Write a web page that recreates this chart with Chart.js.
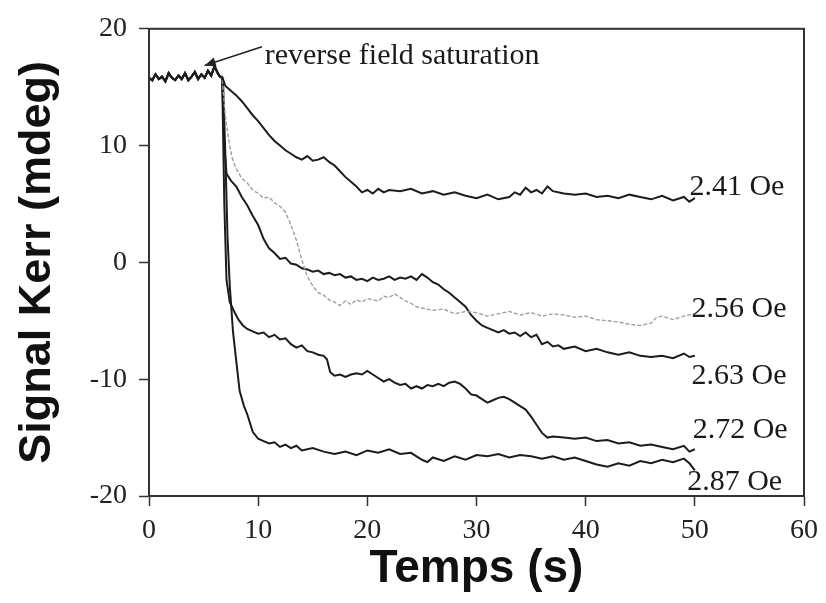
<!DOCTYPE html>
<html>
<head>
<meta charset="utf-8">
<script src="https://cdn.jsdelivr.net/npm/chart.js@4/dist/chart.umd.min.js"></script>
<style>
html,body{margin:0;padding:0;background:#fff;}
canvas{display:block;}
</style>
</head>
<body>
<canvas id="c" width="826" height="603" style="width:826px;height:603px"></canvas>
<script>
// ---- data ----
const xTicks = [0, 10, 20, 30, 40, 50, 60];
const yTicks = [-20, -10, 0, 10, 20];
const fieldLabels = ['2.41 Oe', '2.56 Oe', '2.63 Oe', '2.72 Oe', '2.87 Oe'];

// common saturated plateau before the field reversal
const tPlateau = [0, 0.3, 0.6, 0.9, 1.2, 1.5, 1.8, 2.1, 2.4, 2.7, 3.0, 3.3, 3.6, 3.9, 4.2, 4.5, 4.8, 5.1, 5.4, 5.7, 6.0, 6.3, 6.5];
const kPlateau = [15.8, 15.6, 16.1, 15.7, 15.9, 15.5, 16.2, 15.8, 15.6, 16.0, 15.7, 16.2, 15.6, 15.9, 16.3, 15.7, 16.1, 15.8, 16.4, 16.0, 16.8, 16.2, 15.9];

const t241 = [6.7, 7.0, 7.5, 8.0, 8.5, 9.0, 9.5, 10.0, 10.5, 11.0, 11.5, 12.0, 12.5, 13.0, 13.5, 14.0, 14.5, 15.0, 15.5, 16.0, 16.5, 17.0, 17.5, 18.0, 18.5, 19.0, 19.5, 20.0, 20.5, 21.0, 21.5, 22.0, 23.0, 24.0, 25.0, 26.0, 27.0, 28.0, 29.0, 30.0, 31.0, 32.0, 33.0, 33.5, 34.0, 34.5, 35.0, 35.5, 36.0, 36.5, 37.0, 38.0, 39.0, 40.0, 41.0, 42.0, 43.0, 44.0, 45.0, 46.0, 47.0, 48.0, 49.0, 49.5, 50.0];
const k241 = [15.9, 15.1, 14.7, 14.3, 13.8, 13.2, 12.6, 12.1, 11.5, 10.9, 10.4, 10.0, 9.6, 9.3, 9.0, 8.8, 9.1, 8.7, 8.8, 9.0, 8.6, 8.3, 7.8, 7.3, 6.9, 6.5, 6.0, 6.2, 5.9, 6.3, 6.0, 6.2, 6.1, 6.3, 5.9, 6.1, 5.8, 6.0, 5.7, 5.5, 5.8, 5.4, 5.6, 6.0, 5.8, 6.4, 6.0, 6.2, 5.9, 6.5, 6.1, 5.9, 5.8, 5.9, 5.6, 5.7, 5.5, 5.8, 5.6, 5.4, 5.7, 5.3, 5.6, 5.2, 5.5];

const t256 = [6.7, 7.0, 7.3, 7.6, 8.0, 8.5, 9.0, 9.5, 10.0, 10.5, 11.0, 11.5, 12.0, 12.5, 13.0, 13.5, 14.0, 14.5, 15.0, 15.5, 16.0, 16.5, 17.0, 17.5, 18.0, 18.5, 19.0, 19.5, 20.0, 21.0, 21.5, 22.0, 22.5, 23.0, 23.5, 24.0, 24.5, 25.0, 26.0, 27.0, 28.0, 29.0, 30.0, 31.0, 32.0, 33.0, 34.0, 35.0, 36.0, 37.0, 38.0, 39.0, 40.0, 41.0, 42.0, 43.0, 44.0, 45.0, 46.0, 46.5, 47.0, 48.0, 49.0, 50.0];
const k256 = [15.8, 12.5, 10.5, 9.0, 8.0, 7.2, 6.8, 6.2, 5.9, 5.5, 5.6, 5.1, 4.8, 4.3, 3.2, 1.9, 0.2, -1.2, -2.0, -2.6, -2.8, -3.2, -3.4, -3.7, -3.3, -3.6, -3.2, -3.4, -3.1, -3.3, -2.9, -3.0, -2.7, -3.0, -3.3, -3.5, -3.8, -3.9, -4.1, -4.0, -4.4, -4.2, -4.3, -4.6, -4.4, -4.2, -4.5, -4.3, -4.6, -4.4, -4.5, -4.7, -4.6, -4.9, -5.0, -5.1, -5.3, -5.4, -5.2, -4.7, -4.6, -4.9, -4.6, -4.4];

const t263 = [6.7, 6.9, 7.1, 7.5, 8.0, 8.5, 9.0, 9.5, 10.0, 10.5, 11.0, 11.5, 12.0, 12.5, 13.0, 13.5, 14.0, 14.5, 15.0, 15.5, 16.0, 16.5, 17.0, 17.5, 18.0, 18.5, 19.0, 19.5, 20.0, 20.5, 21.0, 21.5, 22.0, 22.5, 23.0, 23.5, 24.0, 24.5, 25.0, 25.5, 26.0, 26.5, 27.0, 27.5, 28.0, 28.5, 29.0, 29.5, 30.0, 30.5, 31.0, 31.5, 32.0, 32.5, 33.0, 33.5, 34.0, 34.5, 35.0, 35.5, 36.0, 36.5, 37.0, 37.5, 38.0, 39.0, 40.0, 41.0, 42.0, 43.0, 44.0, 45.0, 46.0, 47.0, 48.0, 49.0, 49.5, 50.0];
const k263 = [15.8, 10.0, 7.6, 7.0, 6.5, 5.6, 4.9, 4.0, 3.2, 2.0, 1.2, 0.8, 0.3, 0.4, -0.1, -0.2, -0.5, -0.6, -0.8, -0.7, -1.0, -0.9, -1.1, -1.0, -1.3, -1.2, -1.5, -1.4, -1.6, -1.3, -1.5, -1.4, -1.2, -1.5, -1.3, -1.4, -1.2, -1.5, -1.0, -1.3, -1.7, -1.9, -2.3, -2.6, -3.0, -3.4, -3.8, -4.5, -5.0, -5.4, -5.6, -5.8, -6.0, -5.8, -6.1, -6.0, -6.3, -6.0, -6.4, -6.2, -7.0, -6.8, -7.2, -7.1, -7.4, -7.2, -7.6, -7.4, -7.7, -7.9, -7.7, -8.0, -8.1, -8.0, -8.2, -7.8, -8.1, -8.0];

const t272 = [6.7, 6.9, 7.1, 7.4, 7.8, 8.2, 8.6, 9.0, 9.5, 10.0, 10.5, 11.0, 11.5, 12.0, 12.5, 13.0, 13.5, 14.0, 14.5, 15.0, 15.5, 16.0, 16.3, 16.6, 17.0, 17.5, 18.0, 18.5, 19.0, 19.5, 20.0, 20.5, 21.0, 21.5, 22.0, 22.5, 23.0, 23.5, 24.0, 24.5, 25.0, 25.5, 26.0, 26.5, 27.0, 27.5, 28.0, 28.5, 29.0, 29.5, 30.0, 30.5, 31.0, 31.5, 32.0, 32.5, 33.0, 33.5, 34.0, 34.5, 35.0, 35.5, 36.0, 36.5, 37.0, 38.0, 39.0, 40.0, 41.0, 42.0, 43.0, 44.0, 45.0, 46.0, 47.0, 48.0, 49.0, 49.5, 50.0];
const k272 = [15.8, 5.0, -1.5, -3.4, -4.2, -4.9, -5.4, -5.7, -5.9, -6.1, -6.0, -6.4, -6.2, -6.6, -6.5, -7.0, -7.3, -7.1, -7.6, -7.7, -7.9, -8.0, -8.3, -9.4, -9.7, -9.6, -9.8, -9.6, -9.5, -9.6, -9.3, -9.6, -9.9, -10.2, -10.0, -10.3, -10.5, -10.4, -10.8, -10.6, -10.8, -10.5, -10.6, -10.4, -10.6, -10.3, -10.2, -10.4, -10.8, -11.3, -11.4, -11.7, -12.0, -11.8, -11.6, -11.5, -11.7, -12.0, -12.3, -12.6, -13.2, -13.9, -14.6, -15.0, -14.9, -15.0, -15.1, -15.0, -15.3, -15.2, -15.5, -15.4, -15.7, -15.6, -15.8, -16.0, -15.7, -16.2, -16.0];

const t287 = [6.7, 6.8, 7.0, 7.2, 7.4, 7.7, 8.0, 8.3, 8.7, 9.0, 9.5, 10.0, 10.5, 11.0, 11.5, 12.0, 12.5, 13.0, 13.5, 14.0, 15.0, 16.0, 17.0, 18.0, 19.0, 20.0, 21.0, 22.0, 23.0, 24.0, 25.0, 25.5, 26.0, 27.0, 28.0, 29.0, 30.0, 31.0, 32.0, 33.0, 34.0, 35.0, 36.0, 37.0, 38.0, 39.0, 40.0, 41.0, 42.0, 43.0, 44.0, 45.0, 46.0, 47.0, 48.0, 49.0, 49.5, 50.0];
const k287 = [15.8, 15.0, 9.0, 2.0, -2.0, -6.0, -8.5, -11.0, -12.3, -13.0, -14.5, -15.1, -15.3, -15.5, -15.4, -15.8, -15.6, -15.9, -15.7, -16.1, -15.9, -16.2, -16.4, -16.2, -16.5, -16.1, -16.3, -16.0, -16.4, -16.3, -16.9, -17.1, -16.7, -17.0, -16.6, -16.9, -16.5, -16.6, -16.4, -16.7, -16.5, -16.6, -16.8, -16.6, -16.9, -16.7, -17.0, -17.3, -17.5, -17.2, -17.4, -17.0, -17.2, -16.9, -17.1, -16.8, -17.2, -17.8];

// ---- build datasets ----
function pts(t, k) { return t.map((x, i) => ({x: x, y: k[i]})); }
const plateauPts = pts(tPlateau, kPlateau);
const seriesT = [t241, t256, t263, t272, t287];
const seriesK = [k241, k256, k263, k272, k287];

const datasets = seriesT.map((t, i) => ({
  label: fieldLabels[i],
  data: plateauPts.concat(pts(t, seriesK[i])),
  borderColor: i === 1 ? '#a0a0a0' : '#1c1c1c',
  borderWidth: i === 1 ? 1.4 : 2.0,
  borderDash: i === 1 ? [4, 2] : [],
  pointRadius: 0,
  tension: 0,
  fill: false
}));

// label anchor points (data coords of text left / baseline)
const labelX = [49.5, 49.7, 49.7, 49.8, 49.3];
const labelY = [5.76, -4.66, -10.42, -15.0, -19.49];

const annotate = {
  id: 'annotate',
  afterDraw(chart) {
    const {ctx, chartArea: a, scales: {x, y}} = chart;
    ctx.save();
    // frame
    ctx.strokeStyle = '#333';
    ctx.lineWidth = 2;
    ctx.strokeRect(a.left, a.top, a.right - a.left, a.bottom - a.top);
    // field labels
    ctx.fillStyle = '#1a1a1a';
    ctx.font = '30px "Liberation Serif"';
    ctx.textBaseline = 'alphabetic';
    ctx.textAlign = 'left';
    fieldLabels.forEach((s, i) => {
      ctx.fillText(s, x.getPixelForValue(labelX[i]), y.getPixelForValue(labelY[i]));
    });
    // reverse field saturation annotation
    ctx.fillText('reverse field saturation', x.getPixelForValue(10.6), y.getPixelForValue(16.95));
    const x1 = x.getPixelForValue(10.35), y1 = y.getPixelForValue(18.47);
    const x2 = x.getPixelForValue(5.1), y2 = y.getPixelForValue(16.86);
    ctx.strokeStyle = '#222';
    ctx.lineWidth = 1.5;
    ctx.beginPath();
    ctx.moveTo(x1, y1);
    ctx.lineTo(x2, y2);
    ctx.stroke();
    const ang = Math.atan2(y2 - y1, x2 - x1);
    ctx.beginPath();
    ctx.moveTo(x2, y2);
    ctx.lineTo(x2 - 12 * Math.cos(ang - 0.4), y2 - 12 * Math.sin(ang - 0.4));
    ctx.lineTo(x2 - 12 * Math.cos(ang + 0.4), y2 - 12 * Math.sin(ang + 0.4));
    ctx.closePath();
    ctx.fillStyle = '#222';
    ctx.fill();
    ctx.restore();
  }
};

new Chart(document.getElementById('c'), {
  type: 'line',
  data: {datasets: datasets},
  plugins: [annotate],
  options: {
    responsive: false,
    animation: false,
    layout: {padding: {top: 24, right: 21, left: 0, bottom: 0}},
    plugins: {legend: {display: false}, tooltip: {enabled: false}},
    scales: {
      x: {
        type: 'linear', min: xTicks[0], max: xTicks[xTicks.length - 1],
        afterBuildTicks(s) { s.ticks = xTicks.map(v => ({value: v})); },
        afterFit(s) { s.height = 107; },
        ticks: {font: {family: 'Liberation Serif', size: 28}, color: '#222', padding: 8, maxRotation: 0},
        grid: {drawOnChartArea: false, tickLength: 10, tickColor: '#333', tickWidth: 1.5},
        border: {color: '#333', width: 2},
        title: {display: true, text: 'Temps (s)', color: '#111',
                font: {family: 'Liberation Sans', size: 46, weight: 'bold'}, padding: {top: 0, bottom: 6}}
      },
      y: {
        type: 'linear', min: yTicks[0], max: yTicks[yTicks.length - 1],
        afterBuildTicks(s) { s.ticks = yTicks.map(v => ({value: v})); },
        afterFit(s) { s.width = 149; },
        ticks: {font: {family: 'Liberation Serif', size: 28}, color: '#222', padding: 12},
        grid: {drawOnChartArea: false, tickLength: 10, tickColor: '#333', tickWidth: 1.5},
        border: {color: '#333', width: 2},
        title: {display: true, text: 'Signal Kerr (mdeg)', color: '#111',
                font: {family: 'Liberation Sans', size: 45, weight: 'bold'}, padding: {top: 11, bottom: 0}}
      }
    }
  }
});
</script>
</body>
</html>
